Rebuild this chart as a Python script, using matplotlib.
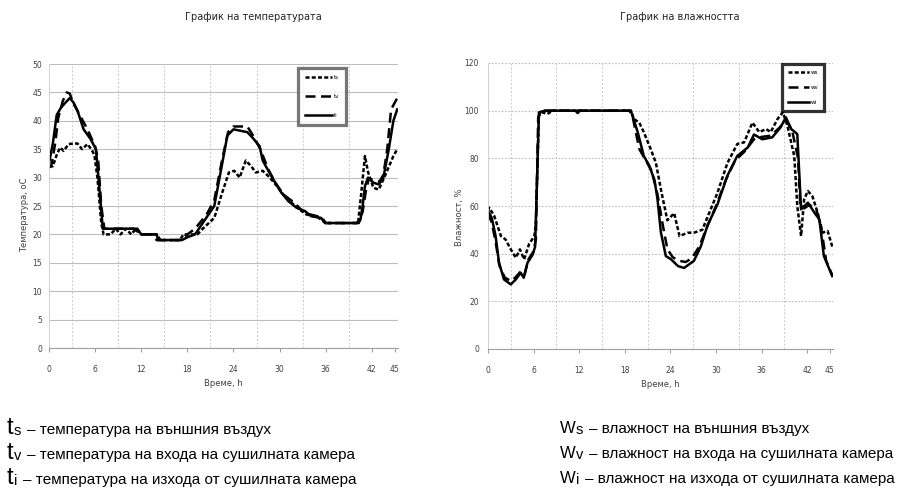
import matplotlib.pyplot as plt

W_PX, H_PX = 899, 488
NARROW = ['Liberation Sans Narrow', 'DejaVu Sans']
SANS = ['Liberation Sans', 'DejaVu Sans']

# --- temperature, deg C ---
ts_time = [0, 0.5, 1, 1.45, 1.9, 2.55, 3.2, 3.7, 4.3, 5,
           5.5, 5.9, 6.3, 6.8, 7.1, 8, 8.7, 9.3, 10, 10.7,
           11.3, 12, 14, 14.5, 17, 17.5, 19.3, 20, 21.5, 22.4,
           23.4, 24.1, 24.8, 25.6, 26.3, 26.9, 27.8, 28.5, 29.3, 30.5,
           32, 33.5, 35, 36, 40.2, 40.6, 41.1, 41.5, 42.2, 42.9,
           43.7, 44.8, 45.3]
ts_vals = [32, 32, 34, 35.3, 34.7, 35.9, 36, 36, 35, 35.9,
           35, 34, 30, 22, 20, 20, 21, 20, 21, 20,
           21, 20, 20, 19, 19, 20, 20, 21, 22.9, 26.8,
           30.9, 31.2, 30, 33, 32, 30.9, 31.2, 30.3, 29.1, 27,
           25, 23.5, 23, 22, 22, 27, 33.8, 31, 28.2, 27.9,
           30.3, 33.8, 35]

tv_time = [0, 0.3, 0.8, 1.2, 1.8, 2.3, 2.7, 3.2, 4, 5,
           6, 6.4, 6.8, 7.2, 9, 11, 12, 13.5, 14, 17,
           18, 19, 20.5, 21.5, 22.5, 23.3, 24, 25.8, 26.5, 27.5,
           28.5, 29.5, 30.5, 32, 33, 34, 35.5, 36, 40.3, 40.8,
           41.2, 41.6, 42.3, 43, 43.5, 44, 44.5, 45.3]
tv_vals = [31.8, 32, 36, 40.5, 43.5, 45, 44.8, 43, 41, 38.5,
           35.5, 33, 25, 21, 21, 21, 20, 20, 19, 19,
           20, 21, 23.5, 26, 33, 38, 39, 39, 37.5, 35,
           31.5, 29, 27, 25.5, 24, 23.5, 23, 22, 22, 24,
           27.5, 29.8, 29.5, 29.3, 30.5, 35, 42, 44]

ti_time = [0, 0.5, 1, 1.5, 2, 2.7, 3.2, 3.7, 4.5, 5.4,
           6.1, 6.5, 7, 7.3, 9, 11.5, 12, 14, 14.2, 17.3,
           18, 19, 20, 21.5, 22.4, 23.2, 24, 25.8, 26.5, 27.4,
           27.8, 28.9, 30.2, 31.1, 32.2, 33.3, 34.1, 35.4, 35.9, 40,
           40.5, 40.8, 41.1, 41.5, 42.2, 42.9, 43.5, 44.2, 44.8, 45.3]
ti_vals = [32.5, 36, 41, 42.2, 43, 44, 43.2, 41.8, 38.5, 36.8,
           35, 29, 21, 21, 21, 21, 20, 20, 19, 19,
           19.5, 20, 22, 25, 31.5, 37.4, 38.5, 38, 37, 35.5,
           33, 30.3, 27.4, 25.9, 24.7, 24.1, 23.2, 22.9, 22, 22,
           22.5, 25, 28.5, 30, 29.1, 28.8, 30, 35, 40, 42]

# --- humidity, % ---
ws_time = [0, 0.15, 0.8, 1.7, 2.3, 3, 3.66, 4.2, 4.75, 5.4,
           6.1, 6.3, 6.7, 7.2, 7.8, 8.5, 12, 18.8, 19.2, 19.9,
           20.5, 21.4, 22.1, 22.75, 23.6, 24.5, 25.2, 26.3, 27.1, 28.2,
           29.1, 30.2, 31.5, 32.8, 33.7, 34.8, 35.7, 36.6, 37.2, 38.1,
           38.8, 39.4, 40.3, 40.7, 41.2, 41.6, 42.1, 42.7, 43.4, 44,
           44.7, 45.3]
ws_vals = [58, 59.3, 56, 47.4, 46, 41.8, 38.3, 41.8, 37.6, 44,
           47.4, 53, 98, 99.3, 98.6, 100, 100, 100, 96.5, 95,
           91, 84, 78, 67, 54, 57, 47.4, 48.8, 48.8, 50,
           57, 65.6, 78, 86, 86.7, 95, 91, 92.3, 91, 96.5,
           99.3, 93.7, 81, 60, 47.4, 62.8, 66.3, 64, 57, 48.8,
           49.5, 43]

wv_time = [0, 0.5, 1, 1.5, 2.2, 3, 3.6, 4.3, 4.8, 5.3,
           6, 6.3, 6.6, 7, 12, 18.6, 19, 19.9, 20.6, 21.5,
           22.3, 23, 23.6, 24.3, 25.2, 26, 26.8, 27.8, 28.8, 30,
           31.3, 32.5, 33.8, 35, 36, 37.2, 38.4, 39.2, 40, 40.8,
           41.1, 41.6, 42.3, 43.2, 43.8, 44.5, 45.3]
wv_vals = [57, 53, 45, 35, 30, 28.5, 30, 32.5, 31, 37.5,
           41, 46, 97, 100, 100, 100, 98, 84, 80, 75,
           65, 52, 42, 38.5, 37, 36.5, 38, 43, 51, 60,
           71, 79, 83, 88, 89, 89.5, 93, 96, 92, 80,
           60, 59, 60.5, 58.5, 52, 37, 31]

wi_time = [0, 0.5, 1, 1.45, 2.1, 3, 3.66, 4.3, 4.7, 5.2,
           5.9, 6.2, 6.7, 7.5, 11.5, 11.8, 12.1, 18.8, 19.2, 19.7,
           20.5, 21.2, 21.9, 22.3, 22.75, 23.4, 24.1, 25, 25.8, 27.1,
           28, 28.9, 30.2, 31.5, 32.8, 34.2, 35, 36.1, 37.4, 38.5,
           39.2, 39.9, 40.7, 41.2, 42.1, 43, 43.6, 44.2, 45.3]
wi_vals = [58, 55, 47.4, 36.2, 29.2, 27.1, 29.2, 32, 29.9, 36.2,
           39.7, 43, 99.3, 100, 100, 99, 100, 100, 96, 91,
           81, 77, 71, 63, 49, 39, 37.6, 34.8, 34, 37,
           43, 52, 60.7, 72.7, 81, 84.6, 90, 88, 88.8, 93,
           97.2, 92.3, 90.2, 58.6, 61.4, 57, 54.4, 39, 30.6]

x_ticks = [0, 6, 12, 18, 24, 30, 36, 42, 45]

DOTTED = (0, (1.6, 0.9))
LONGDASH = (0, (4, 2.2))


def fx(px):
    return px / W_PX


def fy(py):
    return 1 - py / H_PX


def style_axes(ax, ymax, ystep, hgrid_ls, ypad):
    ax.set_xlim(0, 45.4)
    ax.set_ylim(0, ymax)
    ax.set_xticks(x_ticks)
    ax.set_xticks(range(3, 46, 3), minor=True)
    ax.set_yticks(range(0, ymax + 1, ystep))
    ax.grid(True, axis='x', which='minor', color='#c8c8c8', ls=(0, (2, 2)), lw=0.7)
    ax.grid(True, axis='y', which='major', color='#bdbdbd', ls=hgrid_ls, lw=0.8)
    ax.set_axisbelow(True)
    for s in ['top', 'right']:
        ax.spines[s].set_visible(False)
    ax.spines['left'].set_color('#d0d0d0')
    ax.spines['bottom'].set_color('#a0a0a0')
    ax.spines['left'].set_linewidth(0.7)
    ax.spines['bottom'].set_linewidth(0.8)
    ax.tick_params(axis='x', which='major', length=3, color='#a0a0a0', pad=9,
                   labelsize=5.5, labelcolor='#404040')
    ax.tick_params(axis='x', which='minor', length=0)
    ax.tick_params(axis='y', length=0, pad=ypad, labelsize=5.5, labelcolor='#404040')
    for lab in ax.get_xticklabels() + ax.get_yticklabels():
        lab.set_family(NARROW)


def box_legend(ax, x_px, y_px, edge, spacing, hlen, pad):
    leg = ax.legend(loc='upper left', bbox_to_anchor=(fx(x_px), fy(y_px)),
                    bbox_transform=fig.transFigure, fontsize=4, frameon=True,
                    fancybox=False, handlelength=hlen, handletextpad=0.3,
                    labelspacing=spacing, borderpad=pad, borderaxespad=0)
    leg.get_frame().set_edgecolor(edge)
    leg.get_frame().set_linewidth(2.3)
    for t in leg.get_texts():
        t.set_family(NARROW)


fig = plt.figure(figsize=(W_PX / 100, H_PX / 100), dpi=100)

ax1 = fig.add_axes([fx(49), fy(348), fx(398) - fx(49), (348 - 64) / H_PX])
ax1.plot(ts_time, ts_vals, color='black', lw=1.8, ls=DOTTED, label='ts')
ax1.plot(tv_time, tv_vals, color='black', lw=1.8, ls=LONGDASH, label='tv')
ax1.plot(ti_time, ti_vals, color='black', lw=1.8, label='ti')
style_axes(ax1, 50, 5, '-', 5)
ax1.set_xlabel('Време, h', fontsize=6, family=NARROW, color='#404040', labelpad=4)
ax1.set_ylabel('Температура, оС', fontsize=6, family=NARROW, color='#404040')
ax1.yaxis.set_label_coords(-0.058, 0.47)
box_legend(ax1, 298, 68, '#555555', 2.5, 4.8, 1.3)

ax2 = fig.add_axes([fx(488), fy(349), fx(833) - fx(488), (349 - 63) / H_PX])
ax2.plot(ws_time, ws_vals, color='black', lw=1.8, ls=DOTTED, label='ws')
ax2.plot(wv_time, wv_vals, color='black', lw=1.8, ls=LONGDASH, label='wv')
ax2.plot(wi_time, wi_vals, color='black', lw=1.8, label='wi')
style_axes(ax2, 120, 20, (0, (1.5, 1.5)), 6.5)
ax2.set_xlabel('Време, h', fontsize=6, family=NARROW, color='#404040', labelpad=4)
ax2.set_ylabel('Влажност, %', fontsize=6, family=NARROW, color='#404040')
ax2.yaxis.set_label_coords(-0.07, 0.46)
box_legend(ax2, 782, 64, 'black', 1.8, 3.7, 1.1)

fig.text(fx(253), fy(17), 'График на температурата', fontsize=7, family=NARROW,
         ha='center', va='center', color='#222222')
fig.text(fx(680), fy(17), 'График на влажността', fontsize=7, family=NARROW,
         ha='center', va='center', color='#222222')

# legend text under the charts: big symbol, subscript, description
renderer = fig.canvas.get_renderer()


def note(x_px, base_px, sym, sub, rest, sym_size, size):
    t1 = fig.text(fx(x_px), fy(base_px), sym, fontsize=sym_size, family=SANS, va='baseline')
    x = t1.get_window_extent(renderer).x1
    t2 = fig.text(x / W_PX, fy(base_px + 1), sub, fontsize=size - 0.5, family=SANS, va='baseline')
    x = t2.get_window_extent(renderer).x1 + 6
    fig.text(x / W_PX, fy(base_px), rest, fontsize=size, family=SANS, va='baseline')


notes_t = [('s', '– температура на външния въздух'),
           ('v', '– температура на входа на сушилната камера'),
           ('i', '– температура на изхода от сушилната камера')]
notes_w = [('s', '– влажност на външния въздух'),
           ('v', '– влажност на входа на сушилната камера'),
           ('i', '– влажност на изхода от сушилната камера')]

for k, (sub, rest) in enumerate(notes_t):
    note(7, 434 + 25 * k, 't', sub, rest, 17, 11)
for k, (sub, rest) in enumerate(notes_w):
    note(560, 433 + 25 * k, 'W', sub, rest, 12, 11)

fig.savefig('out.png', dpi=100)
